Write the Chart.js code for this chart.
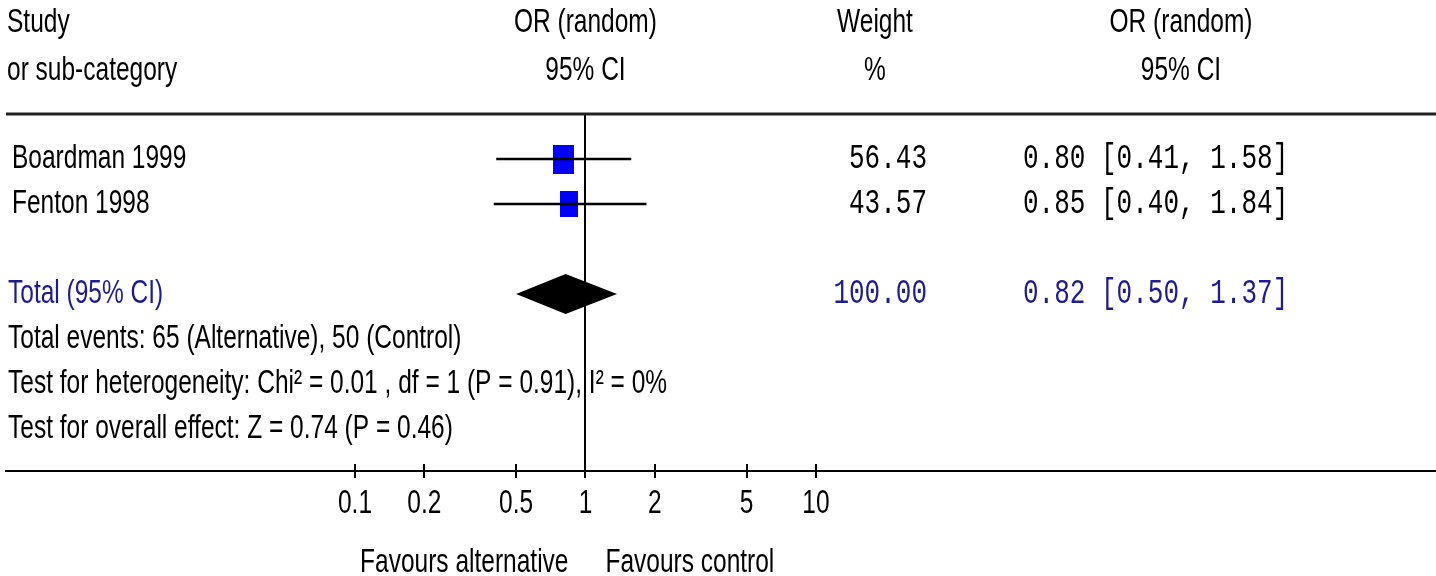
<!DOCTYPE html>
<html><head><meta charset="utf-8">
<script src="https://cdn.jsdelivr.net/npm/chart.js@4.4.1/dist/chart.umd.min.js"></script>
<style>html,body{margin:0;padding:0;background:#fff;overflow:hidden}canvas{display:block}</style>
</head><body>
<canvas id="c" width="1436" height="576"></canvas>
<script>
// ---- data ----
const studies = ['Boardman 1999', 'Fenton 1998'];
const orEst = [0.80, 0.85];
const ciLow = [0.41, 0.40];
const ciHigh = [1.58, 1.84];
const weights = [56.43, 43.57];
const totalLabel = 'Total (95% CI)';
const totalOR = 0.82, totalLow = 0.50, totalHigh = 1.37, totalWeight = 100.00;
const footnotes = [
  'Total events: 65 (Alternative), 50 (Control)',
  'Test for heterogeneity: Chi\u00b2 = 0.01 , df = 1 (P = 0.91), I\u00b2 = 0%',
  'Test for overall effect: Z = 0.74 (P = 0.46)'
];
const tickValues = [0.1, 0.2, 0.5, 1, 2, 5, 10];
const tickLabels = ['0.1', '0.2', '0.5', '1', '2', '5', '10'];
const headers1 = ['Study', 'OR (random)', 'Weight', 'OR (random)'];
const headers2 = ['or sub-category', '95% CI', '%', '95% CI'];
const favourLabels = ['Favours alternative', 'Favours control'];

// ---- styles ----
const SANS = '"Liberation Sans", Arial, sans-serif';
const MONO = '"Liberation Mono", "Courier New", monospace';
const VS = 1.35;               // vertical stretch of text
const NAVY = '#1c1c94';
const TOTAL_ROW = studies.length + 1;
const fmt = (v) => v.toFixed(2);
const ciText = (e, l, h) => fmt(e) + ' [' + fmt(l) + ', ' + fmt(h) + ']';

function squareImg(w) {
  const c = document.createElement('canvas');
  c.width = Math.round(2.8 * Math.sqrt(w));
  c.height = Math.round(3.9 * Math.sqrt(w));
  const g = c.getContext('2d');
  g.fillStyle = '#0000ff';
  g.fillRect(0, 0, c.width, c.height);
  return c;
}
const squares = weights.map(squareImg);

function txt(ctx, s, x, y, align, font, color) {
  ctx.save();
  ctx.font = font;
  ctx.fillStyle = color;
  ctx.textAlign = align;
  ctx.textBaseline = 'middle';
  ctx.translate(x, y);
  ctx.scale(1, VS);
  ctx.fillText(s, 0, 0);
  ctx.restore();
}

const forestPlugin = {
  id: 'forest',
  afterDatasetsDraw(chart) {
    const ctx = chart.ctx, xs = chart.scales.x, ys = chart.scales.y;
    // diamond for pooled estimate
    const yc = ys.getPixelForValue(TOTAL_ROW);
    const half = 20;
    ctx.save();
    ctx.fillStyle = '#000';
    ctx.beginPath();
    ctx.moveTo(xs.getPixelForValue(totalLow), yc);
    ctx.lineTo(xs.getPixelForValue(totalOR), yc - half);
    ctx.lineTo(xs.getPixelForValue(totalHigh), yc);
    ctx.lineTo(xs.getPixelForValue(totalOR), yc + half);
    ctx.closePath();
    ctx.fill();
    ctx.restore();
  },
  afterDraw(chart) {
    const ctx = chart.ctx, xs = chart.scales.x, ys = chart.scales.y, a = chart.chartArea;
    // top rule
    ctx.save();
    ctx.strokeStyle = '#222';
    ctx.lineWidth = 3;
    ctx.beginPath();
    ctx.moveTo(a.left, a.top);
    ctx.lineTo(a.right, a.top);
    ctx.stroke();
    // tick marks
    ctx.lineWidth = 2;
    ctx.strokeStyle = '#000';
    tickValues.forEach(v => {
      const px = Math.round(xs.getPixelForValue(v));
      ctx.beginPath();
      ctx.moveTo(px, a.bottom - 7);
      ctx.lineTo(px, a.bottom + 7);
      ctx.stroke();
    });
    ctx.restore();

    const f = '24.5px ' + SANS;
    const fm = '26px ' + MONO;
    // headers
    const hx = [7, xs.getPixelForValue(1), 875, 1181];
    headers1.forEach((h, i) => txt(ctx, h, hx[i], 23, i === 0 ? 'left' : 'center', f, '#000'));
    headers2.forEach((h, i) => txt(ctx, h, hx[i], 71, i === 0 ? 'left' : 'center', f, '#000'));
    // study rows
    studies.forEach((s, i) => {
      const y = ys.getPixelForValue(i);
      txt(ctx, s, 12, y, 'left', f, '#000');
      txt(ctx, fmt(weights[i]), 927, y, 'right', fm, '#000');
      txt(ctx, ciText(orEst[i], ciLow[i], ciHigh[i]), 1023, y, 'left', fm, '#000');
    });
    // total row
    const yt = ys.getPixelForValue(TOTAL_ROW);
    txt(ctx, totalLabel, 8, yt, 'left', f, NAVY);
    txt(ctx, fmt(totalWeight), 927, yt, 'right', fm, NAVY);
    txt(ctx, ciText(totalOR, totalLow, totalHigh), 1023, yt, 'left', fm, NAVY);
    // footnotes
    footnotes.forEach((s, i) => txt(ctx, s, 8, ys.getPixelForValue(TOTAL_ROW + 1 + i), 'left', f, '#000'));
    // tick labels
    tickValues.forEach((v, i) => txt(ctx, tickLabels[i], xs.getPixelForValue(v), a.bottom + 33, 'center', f, '#000'));
    // favours labels
    const x1 = xs.getPixelForValue(1);
    txt(ctx, favourLabels[0], x1 - 17, a.bottom + 92, 'right', f, '#000');
    txt(ctx, favourLabels[1], x1 + 20, a.bottom + 92, 'left', f, '#000');
  }
};

const ciDatasets = studies.map((s, i) => ({
  label: s + ' CI',
  data: [{x: ciLow[i], y: i}, {x: ciHigh[i], y: i}],
  showLine: true,
  borderColor: '#000',
  borderWidth: 2.5,
  pointRadius: 0,
  order: 0
}));
const squareDataset = {
  label: 'OR',
  data: studies.map((s, i) => ({x: orEst[i], y: i})),
  pointStyle: (c) => squares[c.dataIndex],
  pointRadius: 10,
  order: 1
};

new Chart(document.getElementById('c'), {
  type: 'scatter',
  data: {datasets: [...ciDatasets, squareDataset]},
  options: {
    responsive: false,
    animation: false,
    devicePixelRatio: 1,
    layout: {autoPadding: false, padding: {left: 6, right: 0, top: 114, bottom: 105}},
    plugins: {legend: {display: false}, tooltip: {enabled: false}},
    scales: {
      x: {
        type: 'logarithmic',
        bounds: 'data',
        min: Math.pow(10, -2.514),
        max: Math.pow(10, 3.690),
        afterBuildTicks: (sc) => { sc.ticks = tickValues.map(v => ({value: v})); },
        ticks: {display: false},
        grid: {
          drawTicks: false,
          lineWidth: 2,
          color: (c) => (c.tick && c.tick.value === 1) ? '#000' : 'rgba(0,0,0,0)'
        },
        border: {display: true, color: '#000', width: 2}
      },
      y: {
        type: 'linear',
        bounds: 'data',
        reverse: true,
        min: -1,
        max: 6.933,
        display: false
      }
    }
  },
  plugins: [forestPlugin]
});
</script>
</body></html>
